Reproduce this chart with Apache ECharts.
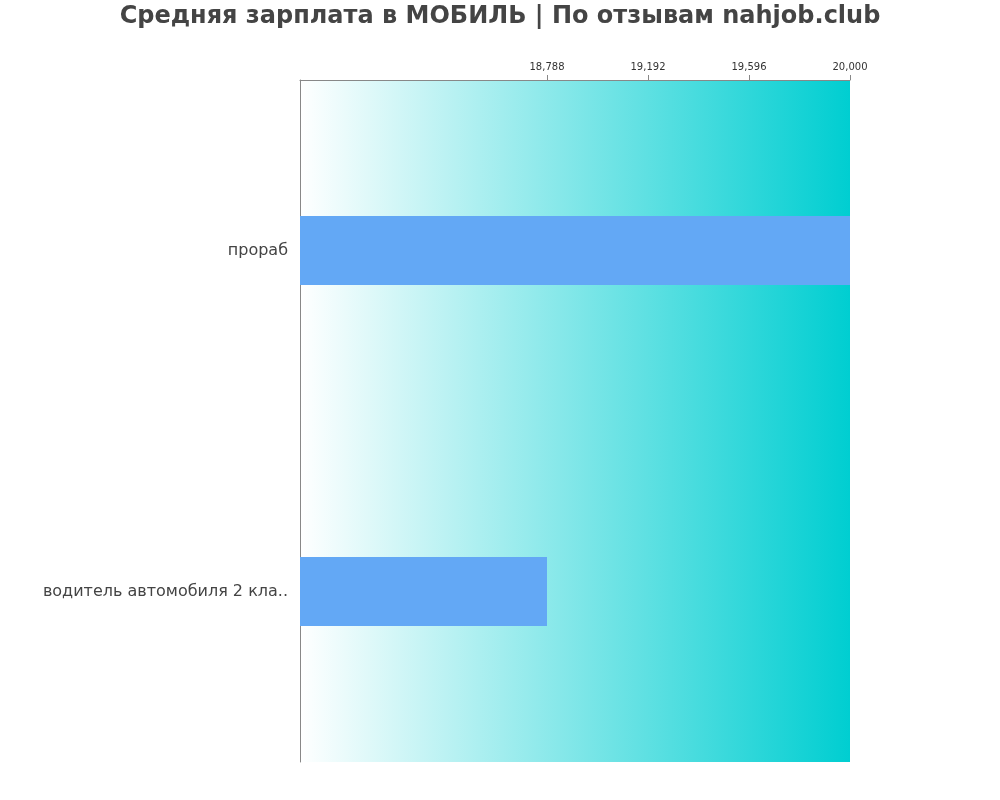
<!DOCTYPE html>
<html><head><meta charset="utf-8">
<script src="https://cdn.jsdelivr.net/npm/echarts@6/dist/echarts.min.js"></script>
<style>html,body{margin:0;padding:0;background:#fff}#c{width:1000px;height:800px}</style>
</head><body><div id="c"></div>
<script>
const categories = ["прораб", "водитель автомобиля 2 кла.."];
const values = [20000, 18788];
const tickValues = [18788, 19192, 19596, 20000];
const chart = echarts.init(document.getElementById('c'));
chart.setOption({
  animation: false,
  title: {text: 'Средняя зарплата в МОБИЛЬ | По отзывам nahjob.club', left: 'center', top: 0,
    textStyle: {fontFamily: 'DejaVu Sans', fontSize: 24, fontWeight: 'bold', color: '#444'}},
  grid: {left: 300, right: 150, top: 80, bottom: 38, show: true, borderWidth: 0,
    backgroundColor: new echarts.graphic.LinearGradient(0, 0, 1, 0, [{offset: 0, color: '#ffffff'}, {offset: 1, color: '#00ced1'}])},
  xAxis: {type: 'value', position: 'top', min: 17800, max: 20000,
    axisLine: {show: true, lineStyle: {color: '#888'}},
    axisTick: {show: true, customValues: tickValues, lineStyle: {color: '#888'}},
    axisLabel: {customValues: tickValues, fontFamily: 'DejaVu Sans', fontSize: 10, color: '#333'},
    splitLine: {show: false}},
  yAxis: {type: 'category', data: categories, inverse: true,
    axisLine: {show: true, lineStyle: {color: '#888'}}, axisTick: {show: false},
    axisLabel: {fontFamily: 'DejaVu Sans', fontSize: 16, color: '#444', margin: 12}},
  series: [{type: 'bar', data: values, barWidth: 69, itemStyle: {color: '#63a8f5'}}]
});
</script></body></html>
